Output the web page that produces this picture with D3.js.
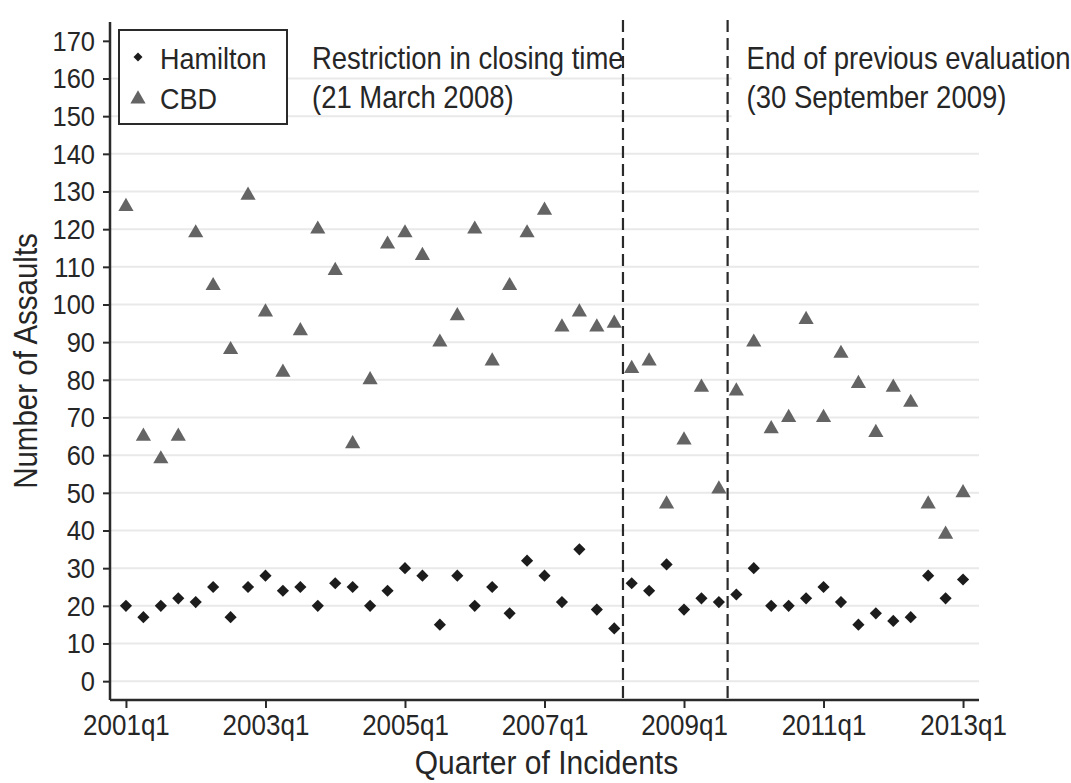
<!DOCTYPE html>
<html>
<head>
<meta charset="utf-8">
<script src="https://cdn.jsdelivr.net/npm/d3@7"></script>
<style>
  html, body { margin: 0; padding: 0; background: #fff; }
  svg { display: block; }
  text { font-family: "Liberation Sans", Arial, sans-serif; fill: #262626; }
  text.stretch, .tick text { transform-box: fill-box; transform-origin: center; transform: scaleY(1.12); }
</style>
</head>
<body>
<svg id="chart" width="1071" height="783"></svg>
<script>
// ---- data ----
const quarters = [
  "2001q1","2001q2","2001q3","2001q4","2002q1","2002q2","2002q3","2002q4",
  "2003q1","2003q2","2003q3","2003q4","2004q1","2004q2","2004q3","2004q4",
  "2005q1","2005q2","2005q3","2005q4","2006q1","2006q2","2006q3","2006q4",
  "2007q1","2007q2","2007q3","2007q4","2008q1","2008q2","2008q3","2008q4",
  "2009q1","2009q2","2009q3","2009q4","2010q1","2010q2","2010q3","2010q4",
  "2011q1","2011q2","2011q3","2011q4","2012q1","2012q2","2012q3","2012q4",
  "2013q1"
];
const hamilton = [
  20,17,20,22,21,25,17,25, 28,24,25,20,26,25,20,24,
  30,28,15,28,20,25,18,32, 28,21,35,19,14,26,24,31,
  19,22,21,23,30,20,20,22, 25,21,15,18,16,17,28,22,
  27
];
const cbd = [
  126,65,59,65,119,105,88,129, 98,82,93,120,109,63,80,116,
  119,113,90,97,120,85,105,119, 125,94,98,94,95,83,85,47,
  64,78,51,77,90,67,70,96, 70,87,79,66,78,74,47,39,
  50
];
const xTickLabels = ["2001q1","2003q1","2005q1","2007q1","2009q1","2011q1","2013q1"];
const yTickValues = [0,10,20,30,40,50,60,70,80,90,100,110,120,130,140,150,160,170];
const gridValues = [0,10,20,30,40,50,60,70,80,90,100,110,120,130,140,150,160];
const events = [
  { quarter: "2008q1", lines: ["Restriction in closing time", "(21 March 2008)"] },
  { quarter: "2009q3", lines: ["End of previous evaluation", "(30 September 2009)"] }
];
const seriesNames = ["Hamilton", "CBD"];

// ---- layout ----
const svg = d3.select("#chart");
const pLeft = 110, pRight = 979, pTop = 22, pBottom = 700;

const x = d3.scalePoint().domain(quarters).range([pLeft, pRight]).padding(0.915);
const y = d3.scaleLinear().domain([-5, 175]).range([pBottom, pTop]);
const step = x.step();

// gridlines
svg.append("g").selectAll("line").data(gridValues).join("line")
  .attr("x1", pLeft).attr("x2", pRight)
  .attr("y1", d => y(d)).attr("y2", d => y(d))
  .attr("stroke", "#e9e9e9").attr("stroke-width", 2);

// white box behind second annotation (hides gridlines as in reference)
const ev2x = x(events[1].quarter) + step / 2;
svg.append("rect")
  .attr("x", ev2x + 4).attr("y", pTop + 4)
  .attr("width", pRight - ev2x - 4).attr("height", y(147) - pTop - 4)
  .attr("fill", "#fff");

// dashed event lines
svg.append("g").selectAll("line").data(events).join("line")
  .attr("x1", d => x(d.quarter) + step / 2).attr("x2", d => x(d.quarter) + step / 2)
  .attr("y1", pTop - 2).attr("y2", pBottom)
  .attr("stroke", "#2a2a2a").attr("stroke-width", 2.2).attr("stroke-dasharray", "12,6");

// annotations
events.forEach((ev, k) => {
  const tx = x(ev.quarter) + step / 2 + (k === 0 ? -311 : 19);
  ev.lines.forEach((ln, j) => {
    svg.append("text").attr("class", "stretch")
      .attr("x", tx).attr("y", 68 + j * 39)
      .style("font-size", "27.5px").text(ln);
  });
});

// axes
const xAxis = d3.axisBottom(x).tickValues(xTickLabels).tickSize(8).tickPadding(7);
const gx = svg.append("g").attr("transform", `translate(0,${pBottom})`).call(xAxis);
gx.select(".domain").attr("d", `M${pLeft},0H${pRight}`).attr("stroke", "#2a2a2a").attr("stroke-width", 2.5);
gx.selectAll(".tick line").attr("stroke", "#2a2a2a").attr("stroke-width", 2);
gx.selectAll(".tick text").style("font-size", "26px").attr("fill", "#262626")
  .style("font-family", "'Liberation Sans', Arial, sans-serif");

const yAxis = d3.axisLeft(y).tickValues(yTickValues).tickSize(7).tickPadding(8);
const gy = svg.append("g").attr("transform", `translate(${pLeft},0)`).call(yAxis);
gy.select(".domain").attr("d", `M0,${pTop}V${pBottom}`).attr("stroke", "#2a2a2a").attr("stroke-width", 2.5);
gy.selectAll(".tick line").attr("stroke", "#2a2a2a").attr("stroke-width", 2);
gy.selectAll(".tick text").style("font-size", "25.5px").attr("fill", "#262626")
  .style("font-family", "'Liberation Sans', Arial, sans-serif");

// axis titles
svg.append("text").attr("class", "stretch").attr("x", (pLeft + pRight) / 2 + 2).attr("y", 773)
  .attr("text-anchor", "middle").style("font-size", "30px").text("Quarter of Incidents");
svg.append("text").attr("transform", `translate(37,${y(85)}) rotate(-90) scale(1,1.12)`)
  .attr("text-anchor", "middle").style("font-size", "29.5px").text("Number of Assaults");

// markers
const diamond = d3.symbol().type(d3.symbolSquare).size(74);
const triangle = d3.symbol().type(d3.symbolTriangle).size(100);

svg.append("g").selectAll("path").data(cbd).join("path")
  .attr("d", triangle)
  .attr("transform", (d, i) => `translate(${x(quarters[i])},${y(d)})`)
  .attr("fill", "#646464");

svg.append("g").selectAll("path").data(hamilton).join("path")
  .attr("d", diamond)
  .attr("transform", (d, i) => `translate(${x(quarters[i])},${y(d)}) rotate(45)`)
  .attr("fill", "#1c1c1c");

// legend
const lg = svg.append("g");
lg.append("rect").attr("x", 119).attr("y", 30).attr("width", 168).attr("height", 94)
  .attr("fill", "#fff").attr("stroke", "#2a2a2a").attr("stroke-width", 2);
lg.append("path").attr("d", d3.symbol().type(d3.symbolSquare).size(40))
  .attr("transform", "translate(138,57) rotate(45)").attr("fill", "#1c1c1c");
lg.append("path").attr("d", triangle).attr("transform", "translate(138,99)").attr("fill", "#646464");
lg.append("text").attr("class", "stretch").attr("x", 160).attr("y", 68).style("font-size", "27px").text(seriesNames[0]);
lg.append("text").attr("class", "stretch").attr("x", 160).attr("y", 108).style("font-size", "27px").text(seriesNames[1]);
</script>
</body>
</html>
